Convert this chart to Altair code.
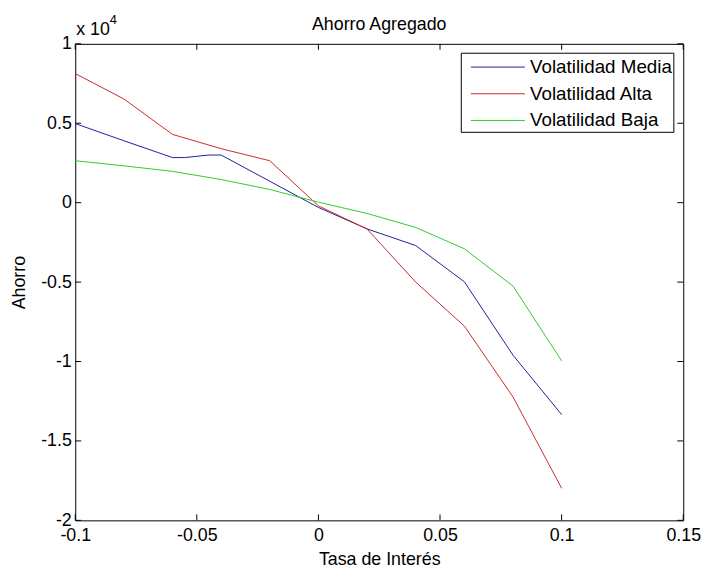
import altair as alt
import pandas as pd

# ---- data ----
series_names = ["Volatilidad Media", "Volatilidad Alta", "Volatilidad Baja"]
series_colors = ["#1f1f99", "#cc2a2a", "#2ecc2e"]

x_media = [-0.1, -0.08, -0.06, -0.055, -0.045, -0.04, -0.02, 0.0, 0.02, 0.04, 0.06, 0.08, 0.1]
y_media = [4980, 3900, 2840, 2840, 3000, 3000, 1350, -300, -1650, -2700, -4980, -9600, -13340]

x_alta = [-0.1, -0.08, -0.06, -0.04, -0.02, 0.0, 0.02, 0.04, 0.06, 0.08, 0.1]
y_alta = [8130, 6530, 4300, 3400, 2640, -200, -1660, -5000, -7770, -12230, -17980]

x_baja = [-0.1, -0.08, -0.06, -0.04, -0.02, 0.0, 0.02, 0.04, 0.06, 0.08, 0.1]
y_baja = [2640, 2320, 1970, 1460, 830, 30, -680, -1560, -2900, -5250, -9960]

x_ticks = [-0.1, -0.05, 0.0, 0.05, 0.1, 0.15]
y_ticks = [-20000, -15000, -10000, -5000, 0, 5000, 10000]

title_text = ["Ahorro Agregado"]
x_title = "Tasa de Interés"
y_title = "Ahorro"
exp_base = ["x 10"]
exp_power = ["4"]

# ---- build table ----
rows = []
for name, xs, ys in zip(series_names, [x_media, x_alta, x_baja], [y_media, y_alta, y_baja]):
    for i, (xv, yv) in enumerate(zip(xs, ys)):
        rows.append({"rate": xv, "saving": yv, "series": name, "i": i})
df = pd.DataFrame(rows)

W, H = 615, 482
FONT = "Liberation Sans"
TICK = 6

x_scale = alt.Scale(domain=[x_ticks[0], x_ticks[-1]], nice=False, zero=False)
y_scale = alt.Scale(domain=[y_ticks[0], y_ticks[-1]], nice=False, zero=False)

x_axis = alt.Axis(values=x_ticks, labelExpr="datum.value + ''", title=x_title,
                  ticks=False, tickSize=0, grid=False, domain=False,
                  labelPadding=6, labelFlush=False, labelOverlap=False,
                  titleX=W / 2, titleY=45, titleBaseline="alphabetic")
y_axis = alt.Axis(values=y_ticks, labelExpr="(datum.value / 10000) + ''", title=y_title,
                  ticks=False, tickSize=0, grid=False, domain=False,
                  labelPadding=4, labelFlush=False, labelOverlap=False,
                  titleX=-56, titleY=H / 2, titleAngle=-90,
                  titleAlign="center", titleBaseline="middle")

lines = alt.Chart(df).mark_line(strokeWidth=1).encode(
    x=alt.X("rate:Q", scale=x_scale, axis=x_axis),
    y=alt.Y("saving:Q", scale=y_scale, axis=y_axis),
    color=alt.Color("series:N", scale=alt.Scale(domain=series_names, range=series_colors),
                    sort=series_names,
                    legend=alt.Legend(title=None, orient="none", legendX=390, legendY=9,
                                      symbolType="M-2.1,0H2.1", symbolSize=676,
                                      symbolStrokeWidth=1, symbolOffset=23,
                                      labelFontSize=19, labelFont=FONT, labelColor="black",
                                      labelExpr="datum.label + ' '",
                                      labelOffset=19, padding=1, rowPadding=3,
                                      strokeColor="black", fillColor="white")),
    order="i:Q",
)

xt = pd.DataFrame({"rate": x_ticks})
yt = pd.DataFrame({"saving": y_ticks})

xb = alt.Chart(xt).mark_rule(color="black", strokeWidth=1).encode(
    x=alt.X("rate:Q", scale=x_scale, axis=x_axis), y=alt.value(H), y2=alt.value(H - TICK))
xtop = alt.Chart(xt).mark_rule(color="black", strokeWidth=1).encode(
    x=alt.X("rate:Q", scale=x_scale, axis=x_axis), y=alt.value(0), y2=alt.value(TICK))
yl = alt.Chart(yt).mark_rule(color="black", strokeWidth=1).encode(
    y=alt.Y("saving:Q", scale=y_scale, axis=y_axis), x=alt.value(0), x2=alt.value(TICK))
yr = alt.Chart(yt).mark_rule(color="black", strokeWidth=1).encode(
    y=alt.Y("saving:Q", scale=y_scale, axis=y_axis), x=alt.value(W - TICK), x2=alt.value(W))

ttl = alt.Chart(pd.DataFrame({"t": title_text})).mark_text(
    align="center", baseline="alphabetic", fontSize=18, font=FONT, color="black").encode(
    text="t:N", x=alt.value(W / 2), y=alt.value(-14))
exp1 = alt.Chart(pd.DataFrame({"t": exp_base})).mark_text(
    align="left", baseline="alphabetic", fontSize=18, font=FONT, color="black").encode(
    text="t:N", x=alt.value(1), y=alt.value(-9))
exp2 = alt.Chart(pd.DataFrame({"t": exp_power})).mark_text(
    align="left", baseline="alphabetic", fontSize=13, font=FONT, color="black").encode(
    text="t:N", x=alt.value(35), y=alt.value(-20))

chart = alt.layer(xb, xtop, yl, yr, lines, ttl, exp1, exp2).properties(
    width=W, height=H,
    autosize=alt.AutoSizeParams(type="none"),
    padding={"left": 68, "top": 33, "right": 20, "bottom": 50},
    background="white",
).configure(font=FONT).configure_axis(
    labelFontSize=18, titleFontSize=18, labelColor="black", titleColor="black",
    titleFontWeight="normal", labelFont=FONT, titleFont=FONT,
).configure_view(stroke="black", strokeWidth=1)

chart.save("out.html", embed_options={"renderer": "svg", "actions": False})
